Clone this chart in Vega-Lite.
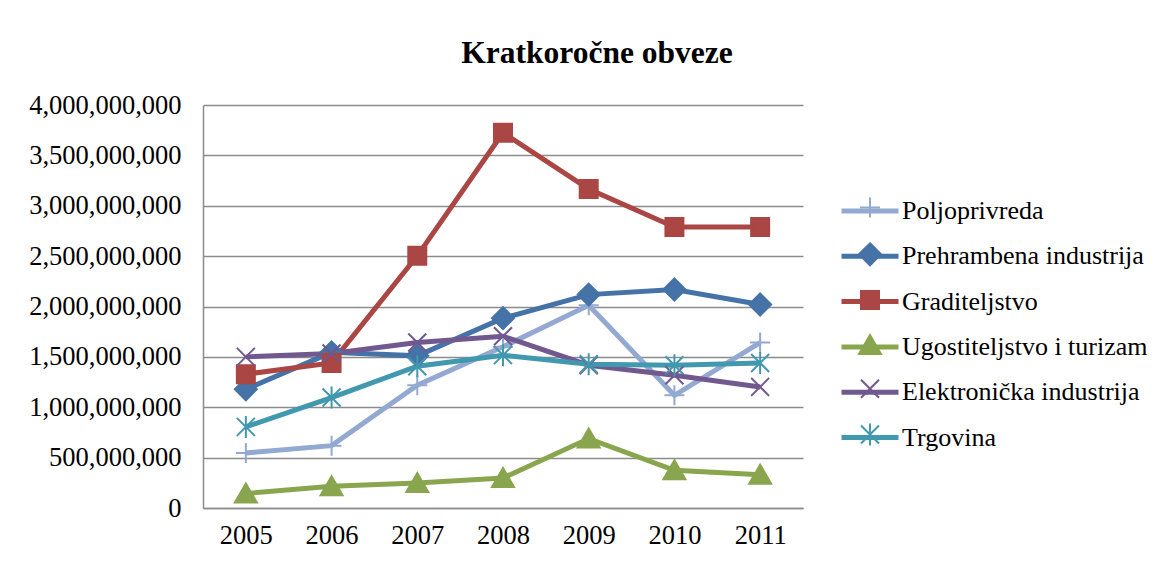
{
  "$schema": "https://vega.github.io/schema/vega-lite/v6.json",
  "autosize": {"type": "none"},
  "width": 600,
  "height": 403,
  "padding": {"left": 203, "top": 105, "right": 366, "bottom": 53},
  "background": "white",
  "title": {
    "text": "Kratkoročne obveze",
    "font": "Liberation Serif",
    "fontSize": 31.5,
    "fontWeight": "bold",
    "color": "black",
    "anchor": "middle",
    "frame": "group",
    "dx": 94,
    "baseline": "alphabetic",
    "offset": -2
  },
  "config": {
    "view": {"stroke": null},
    "axis": {
      "labelFont": "Liberation Serif",
      "labelFontSize": 26.5,
      "labelColor": "black",
      "domainColor": "#8c8c8c",
      "domainWidth": 1.5,
      "gridColor": "#8c8c8c",
      "gridWidth": 1.5,
      "ticks": false,
      "title": null
    },
    "legend": {
      "labelFont": "Liberation Serif",
      "labelFontSize": 26,
      "labelColor": "black",
      "labelLimit": 400,
      "title": null
    }
  },
  "data": {
    "values": [
      {"year": "2005", "series": "Poljoprivreda", "value": 546000000},
      {"year": "2006", "series": "Poljoprivreda", "value": 619000000},
      {"year": "2007", "series": "Poljoprivreda", "value": 1219000000},
      {"year": "2008", "series": "Poljoprivreda", "value": 1600000000},
      {"year": "2009", "series": "Poljoprivreda", "value": 2013000000},
      {"year": "2010", "series": "Poljoprivreda", "value": 1119000000},
      {"year": "2011", "series": "Poljoprivreda", "value": 1642000000},
      {"year": "2005", "series": "Prehrambena industrija", "value": 1179000000},
      {"year": "2006", "series": "Prehrambena industrija", "value": 1545000000},
      {"year": "2007", "series": "Prehrambena industrija", "value": 1510000000},
      {"year": "2008", "series": "Prehrambena industrija", "value": 1884000000},
      {"year": "2009", "series": "Prehrambena industrija", "value": 2118000000},
      {"year": "2010", "series": "Prehrambena industrija", "value": 2169000000},
      {"year": "2011", "series": "Prehrambena industrija", "value": 2020000000},
      {"year": "2005", "series": "Graditeljstvo", "value": 1328000000},
      {"year": "2006", "series": "Graditeljstvo", "value": 1440000000},
      {"year": "2007", "series": "Graditeljstvo", "value": 2503000000},
      {"year": "2008", "series": "Graditeljstvo", "value": 3725000000},
      {"year": "2009", "series": "Graditeljstvo", "value": 3166000000},
      {"year": "2010", "series": "Graditeljstvo", "value": 2788000000},
      {"year": "2011", "series": "Graditeljstvo", "value": 2788000000},
      {"year": "2005", "series": "Ugostiteljstvo i turizam", "value": 144000000},
      {"year": "2006", "series": "Ugostiteljstvo i turizam", "value": 215000000},
      {"year": "2007", "series": "Ugostiteljstvo i turizam", "value": 248000000},
      {"year": "2008", "series": "Ugostiteljstvo i turizam", "value": 298000000},
      {"year": "2009", "series": "Ugostiteljstvo i turizam", "value": 689000000},
      {"year": "2010", "series": "Ugostiteljstvo i turizam", "value": 374000000},
      {"year": "2011", "series": "Ugostiteljstvo i turizam", "value": 331000000},
      {"year": "2005", "series": "Elektronička industrija", "value": 1500000000},
      {"year": "2006", "series": "Elektronička industrija", "value": 1533000000},
      {"year": "2007", "series": "Elektronička industrija", "value": 1642000000},
      {"year": "2008", "series": "Elektronička industrija", "value": 1705000000},
      {"year": "2009", "series": "Elektronička industrija", "value": 1417000000},
      {"year": "2010", "series": "Elektronička industrija", "value": 1318000000},
      {"year": "2011", "series": "Elektronička industrija", "value": 1202000000},
      {"year": "2005", "series": "Trgovina", "value": 805000000},
      {"year": "2006", "series": "Trgovina", "value": 1096000000},
      {"year": "2007", "series": "Trgovina", "value": 1407000000},
      {"year": "2008", "series": "Trgovina", "value": 1517000000},
      {"year": "2009", "series": "Trgovina", "value": 1427000000},
      {"year": "2010", "series": "Trgovina", "value": 1417000000},
      {"year": "2011", "series": "Trgovina", "value": 1440000000}
    ]
  },
  "encoding": {
    "x": {
      "field": "year",
      "type": "ordinal",
      "axis": {"labelAngle": 0, "labelPadding": 14, "grid": false}
    },
    "y": {
      "field": "value",
      "type": "quantitative",
      "scale": {"domain": [0, 4000000000], "nice": false},
      "axis": {
        "values": [0, 500000000, 1000000000, 1500000000, 2000000000, 2500000000, 3000000000, 3500000000, 4000000000],
        "format": ",d",
        "labelPadding": 22,
        "grid": true
      }
    }
  },
  "layer": [
    {
      "mark": {"type": "line", "strokeWidth": 5},
      "encoding": {
        "color": {
          "field": "series",
          "type": "nominal",
          "sort": ["Poljoprivreda", "Prehrambena industrija", "Graditeljstvo", "Ugostiteljstvo i turizam", "Elektronička industrija", "Trgovina"],
          "scale": {
            "range": ["#93A9D2", "#4572A7", "#AA4643", "#89A54E", "#71588F", "#4198AF"]
          },
          "legend": {
            "orient": "none",
            "legendX": 636,
            "legendY": 75,
            "symbolType": "stroke",
            "symbolSize": 3249,
            "symbolStrokeWidth": 5,
            "labelOffset": 1,
            "rowPadding": 1.3
          }
        }
      }
    },
    {
      "mark": {"type": "point", "filled": true, "size": 400, "strokeWidth": 2, "opacity": 1},
      "encoding": {
        "fill": {
          "field": "series",
          "type": "nominal",
          "scale": {
            "domain": ["Poljoprivreda", "Prehrambena industrija", "Graditeljstvo", "Ugostiteljstvo i turizam", "Elektronička industrija", "Trgovina"],
            "range": ["#93A9D2", "#4572A7", "#AA4643", "#89A54E", "#71588F", "#4198AF"]
          },
          "legend": {
            "orient": "none",
            "legendX": 654,
            "legendY": 89.5,
            "symbolSize": 400,
            "symbolStrokeWidth": 2,
            "labelExpr": "''",
            "labelOffset": 1,
            "rowPadding": 17.8
          }
        },
        "stroke": {
          "field": "series",
          "type": "nominal",
          "scale": {
            "domain": ["Poljoprivreda", "Prehrambena industrija", "Graditeljstvo", "Ugostiteljstvo i turizam", "Elektronička industrija", "Trgovina"],
            "range": ["#93A9D2", "#4572A7", "#AA4643", "#89A54E", "#71588F", "#4198AF"]
          },
          "legend": {
            "orient": "none",
            "legendX": 654,
            "legendY": 89.5,
            "symbolSize": 400,
            "symbolStrokeWidth": 2,
            "labelExpr": "''",
            "labelOffset": 1,
            "rowPadding": 17.8
          }
        },
        "shape": {
          "field": "series",
          "type": "nominal",
          "scale": {
            "domain": ["Poljoprivreda", "Prehrambena industrija", "Graditeljstvo", "Ugostiteljstvo i turizam", "Elektronička industrija", "Trgovina"],
            "range": [
              "M-1,0H1M0,-1V1",
              "M0,-1.1L1.1,0L0,1.1L-1.1,0Z",
              "M-0.9,-0.9H0.9V0.9H-0.9Z",
              "M0,-1L1.1,0.9L-1.1,0.9Z",
              "M-0.9,-0.9L0.9,0.9M-0.9,0.9L0.9,-0.9",
              "M-0.9,-0.9L0.9,0.9M-0.9,0.9L0.9,-0.9M0,-1.1V1.1"
            ]
          },
          "legend": {
            "orient": "none",
            "legendX": 654,
            "legendY": 89.5,
            "symbolSize": 400,
            "symbolStrokeWidth": 2,
            "labelExpr": "''",
            "labelOffset": 1,
            "rowPadding": 17.8
          }
        }
      }
    }
  ]
}
